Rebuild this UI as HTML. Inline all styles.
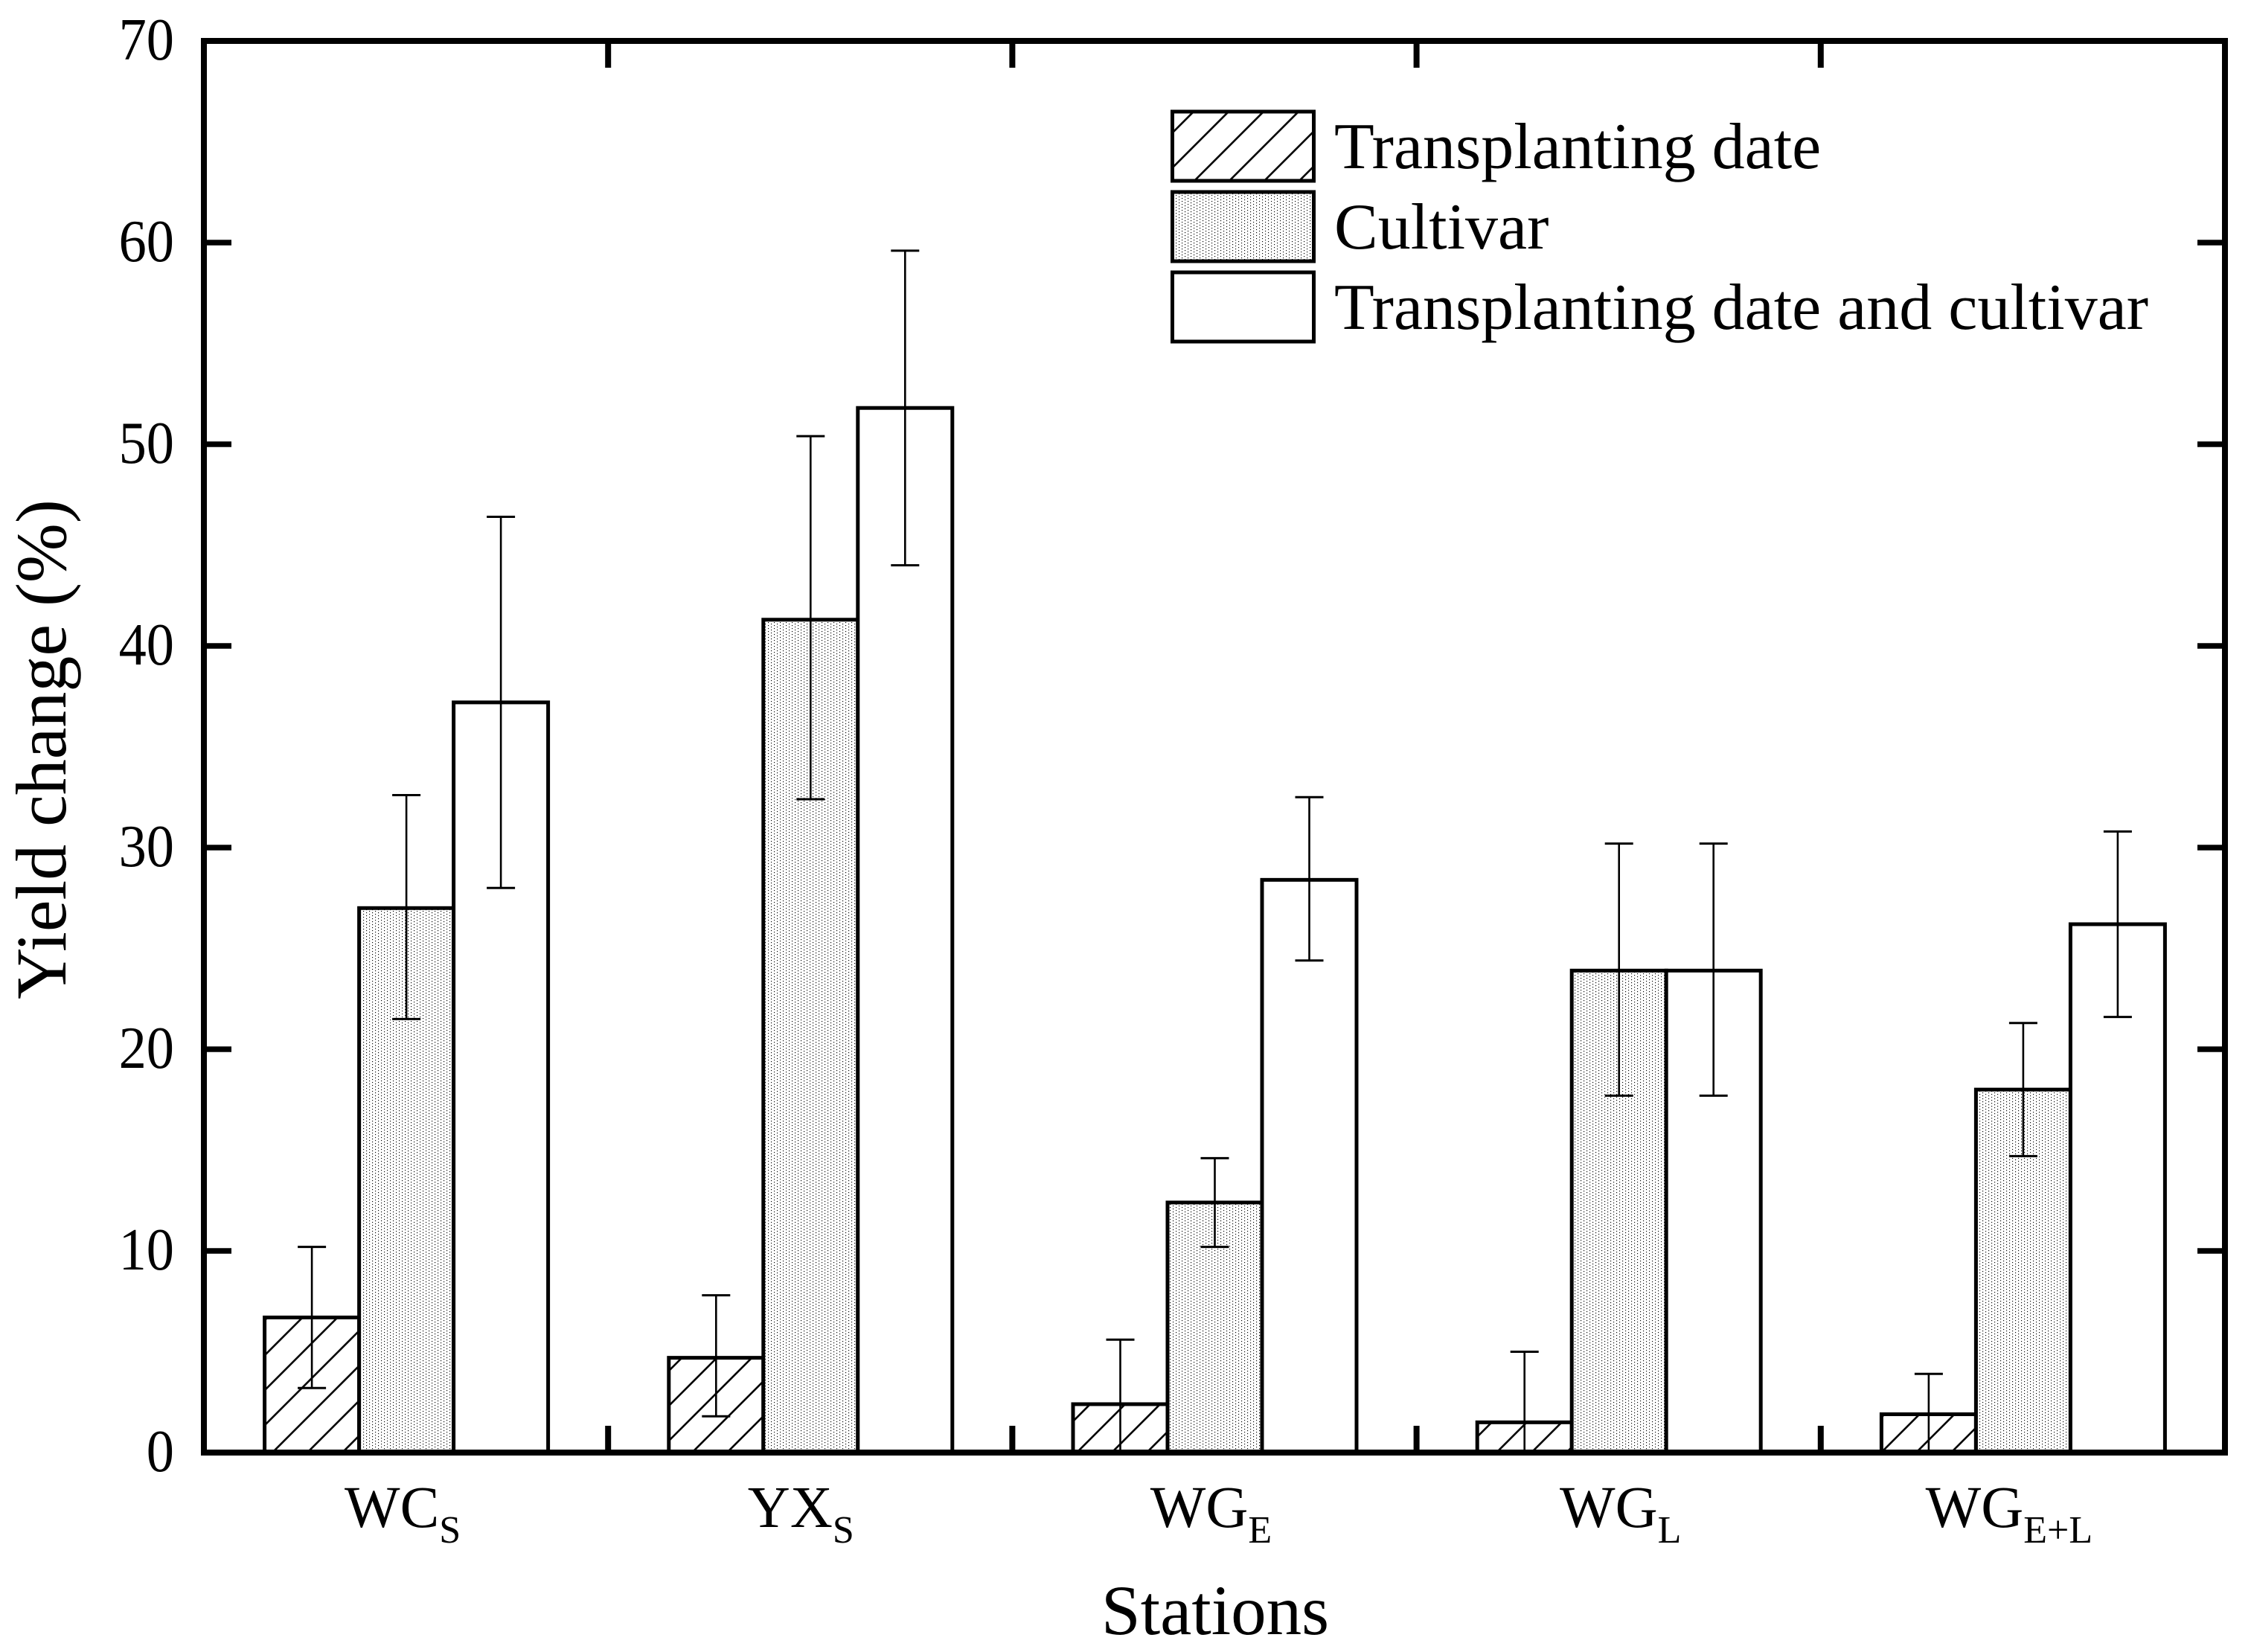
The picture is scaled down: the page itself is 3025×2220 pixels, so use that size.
<!DOCTYPE html>
<html lang="en">
<head>
<meta charset="utf-8">
<title>Yield change by station</title>
<style>
  html, body { margin: 0; padding: 0; background: #fff; }
  svg { display: block; }
  text { font-family: "Liberation Serif", serif; fill: #000; }
</style>
</head>
<body>
<svg id="chart" xmlns="http://www.w3.org/2000/svg" width="3025" height="2220" viewBox="0 0 3025 2220">
  <defs>
    <pattern id="hatch" patternUnits="userSpaceOnUse" width="47" height="47">
      <path d="M18 -3L-3 18M50 12L12 50" stroke="#000" stroke-width="2.6" fill="none"/>
    </pattern>
    <pattern id="dots" patternUnits="userSpaceOnUse" width="8" height="4">
      <rect width="8" height="4" fill="#fff"/>
      <rect x="0" y="0" width="1.15" height="1.15" fill="#000"/>
      <rect x="4" y="2" width="1.15" height="1.15" fill="#000"/>
    </pattern>
  </defs>
  <rect width="3025" height="2220" fill="#fff"/>
  <g id="bars"></g>
  <g id="errors"></g>
  <g id="axes"></g>
  <text transform="translate(88 1007) rotate(-90)" text-anchor="middle" font-size="96">Yield change (%)</text>
  <text x="1633" y="2196" text-anchor="middle" font-size="95">Stations</text>
  <g>
    <g>
      <rect x="1575.5" y="150" width="190" height="93" fill="url(#hatch)" stroke="#000" stroke-width="5"/>
      <text x="1793" y="226" font-size="88">Transplanting date</text>
    </g>
    <g>
      <rect x="1575.5" y="258" width="190" height="93" fill="url(#dots)" stroke="#000" stroke-width="5"/>
      <text x="1793" y="334" font-size="88">Cultivar</text>
    </g>
    <g>
      <rect x="1575.5" y="366" width="190" height="93" fill="#fff" stroke="#000" stroke-width="5"/>
      <text x="1793" y="442" font-size="88">Transplanting date and cultivar</text>
    </g>
  </g>
</svg>
<script>
const categories = ["WC", "YX", "WG", "WG", "WG"];
const categorySubscripts = ["S", "S", "E", "L", "E+L"];
const seriesNames = ["transplanting-date", "cultivar", "transplanting-date-and-cultivar"];
const transplantingValues = [6.7, 4.7, 2.4, 1.5, 1.9];
const cultivarValues = [27.0, 41.3, 12.4, 23.9, 18.0];
const bothValues = [37.2, 51.8, 28.4, 23.9, 26.2];
const transplantingUpper = [10.2, 7.8, 5.6, 5.0, 3.9];
const cultivarUpper = [32.6, 50.4, 14.6, 30.2, 21.3];
const bothUpper = [46.4, 59.6, 32.5, 30.2, 30.8];
const transplantingLower = [3.2, 1.8, 0, 0, 0];
const cultivarLower = [21.5, 32.4, 10.2, 17.7, 14.7];
const bothLower = [28.0, 44.0, 24.4, 17.7, 21.6];
const yTickValues = [0, 10, 20, 30, 40, 50, 60, 70];

const NS = "http://www.w3.org/2000/svg";
const plotLeft = 274, plotRight = 2990, plotTop = 55, plotBottom = 1952, yMax = 70;
const band = (plotRight - plotLeft) / categories.length;
const barWidth = 127;
const fills = ["url(#hatch)", "url(#dots)", "#fff"];
const allValues = [transplantingValues, cultivarValues, bothValues];
const allUpper = [transplantingUpper, cultivarUpper, bothUpper];
const allLower = [transplantingLower, cultivarLower, bothLower];

function yScale(v) { return plotBottom - (v / yMax) * (plotBottom - plotTop); }
function xCenter(i) { return plotLeft + band * (i + 0.5) + 0.5; }
function xBar(i, s) { return xCenter(i) + (s - 1.5) * barWidth; }
function labelNudge(i) { return [-5, -13, -5, 2, -19][i]; }
function make(tag, attrs, parent) {
  const el = document.createElementNS(NS, tag);
  for (const k in attrs) el.setAttribute(k, attrs[k]);
  parent.appendChild(el);
  return el;
}

const barsG = document.getElementById("bars");
const errG = document.getElementById("errors");
const axesG = document.getElementById("axes");

categories.forEach(function (cat, i) {
  allValues.forEach(function (vals, s) {
    const top = yScale(vals[i]);
    const bar = make("rect", { x: xBar(i, s), y: top, width: barWidth, height: plotBottom - top, fill: fills[s], stroke: "#000", "stroke-width": 5 }, barsG);
    
    

    const cx = xBar(i, s) + barWidth / 2;
    const hi = yScale(allUpper[s][i]);
    const lo = yScale(Math.max(0, allLower[s][i]));
    const stem = make("line", { x1: cx, x2: cx, y1: hi, y2: lo, stroke: "#000", "stroke-width": 2.6 }, errG);
    
    
    const capTop = make("line", { x1: cx - 19, x2: cx + 19, y1: hi, y2: hi, stroke: "#000", "stroke-width": 3 }, errG);
    
    
    if (allLower[s][i] > 0) {
      const capLow = make("line", { x1: cx - 19, x2: cx + 19, y1: lo, y2: lo, stroke: "#000", "stroke-width": 3 }, errG);
      
      
    }
  });

  const label = make("text", { x: xCenter(i) + labelNudge(i), y: 2052, "text-anchor": "middle", "font-size": 79 }, axesG);
  
  
  const main = make("tspan", {}, label);
  main.textContent = cat;
  const sub = make("tspan", { "font-size": 52, dy: 21 }, label);
  sub.textContent = categorySubscripts[i];

  if (i > 0) {
    const tx = plotLeft + band * i;
    const bt = make("line", { x1: tx, x2: tx, y1: plotBottom, y2: plotBottom - 36, stroke: "#000", "stroke-width": 8 }, axesG);
    
    
    const tt = make("line", { x1: tx, x2: tx, y1: plotTop, y2: plotTop + 36, stroke: "#000", "stroke-width": 8 }, axesG);
    
    
  }
});

yTickValues.forEach(function (v) {
  const y = yScale(v);
  if (v > 0 && v < yMax) {
    const lt = make("line", { x1: plotLeft, x2: plotLeft + 37, y1: y, y2: y, stroke: "#000", "stroke-width": 7.5 }, axesG);
    
    
    const rt = make("line", { x1: plotRight, x2: plotRight - 37, y1: y, y2: y, stroke: "#000", "stroke-width": 7.5 }, axesG);
    
    
  }
  const t = make("text", { transform: "translate(234 " + (y + 25) + ") scale(0.93 1)", "text-anchor": "end", "font-size": 80 }, axesG);
  
  
  t.textContent = String(v);
});

const frame = make("rect", { x: plotLeft, y: plotTop, width: plotRight - plotLeft, height: plotBottom - plotTop, fill: "none", stroke: "#000", "stroke-width": 8 }, axesG);


</script>
</body>
</html>
